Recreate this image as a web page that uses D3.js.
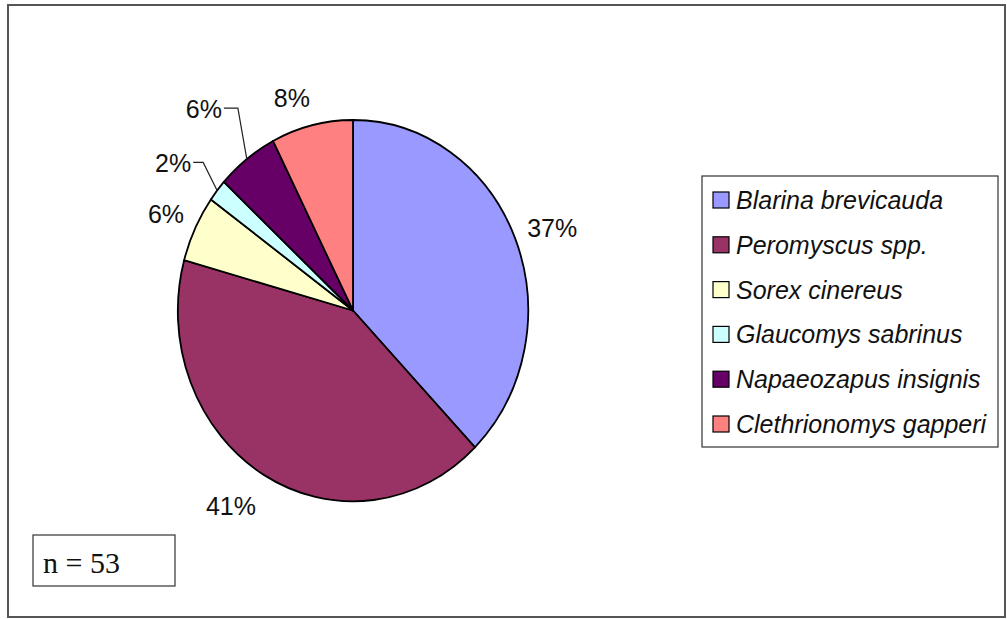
<!DOCTYPE html>
<html>
<head>
<meta charset="utf-8">
<script src="https://cdn.jsdelivr.net/npm/d3@7/dist/d3.min.js"></script>
<style>
  html, body { margin: 0; padding: 0; background: #fff; }
  svg { display: block; }
</style>
</head>
<body>
<script>
// Small-mammal captures by species (n = 53)
const species = ["Blarina brevicauda", "Peromyscus spp.", "Sorex cinereus",
                 "Glaucomys sabrinus", "Napaeozapus insignis", "Clethrionomys gapperi"];
const counts = [20, 22, 3, 1, 3, 4];
const percentLabels = ["37%", "41%", "6%", "2%", "6%", "8%"];
const sampleLabel = "n = 53";

const colors = ["#9999FF", "#993366", "#FFFFCC", "#CCFFFF", "#660066", "#FF8080"];

const W = 1007, H = 619;
const cx = 353, cy = 310.5, rx = 175, ry = 190.5;

// label placement relative to the slice's rim point, and which labels get leaders
const labelNudge = [[37, -11], [-33, 31], [-29, -14.5], [-44, -27], [-43, -50], [-20, -27]];
const leaderGap = [0, 0, 0, 10, 14, 0];

const svg = d3.select("body").append("svg").attr("width", W).attr("height", H);

svg.append("rect").attr("x", 8).attr("y", 5).attr("width", 997).attr("height", 612)
  .attr("fill", "#fff").attr("stroke", "#555").attr("stroke-width", 2);

const pie = d3.pie().sort(null).value(d => d)(counts);
const arc = d3.arc().innerRadius(0).outerRadius(1);

// pie drawn on a unit circle, stretched to an ellipse
const pieG = svg.append("g").attr("transform", `translate(${cx},${cy}) scale(${rx},${ry})`);
pieG.selectAll("path").data(pie).join("path")
  .attr("d", arc)
  .attr("fill", (d, i) => colors[i])
  .attr("stroke", "#000")
  .attr("stroke-width", 1.8)
  .attr("vector-effect", "non-scaling-stroke")
  .attr("stroke-linejoin", "round");

const font = "'Liberation Sans', Arial, sans-serif";
const labelSize = 25;

pie.forEach((d, i) => {
  const a = (d.startAngle + d.endAngle) / 2;
  const px = cx + rx * Math.sin(a);
  const py = cy - ry * Math.cos(a);
  const lx = px + labelNudge[i][0];
  const ly = py + labelNudge[i][1];
  const t = svg.append("text")
    .attr("x", lx).attr("y", ly + 9)
    .attr("text-anchor", "middle")
    .attr("font-family", font)
    .attr("font-size", labelSize)
    .attr("fill", "#111")
    .text(percentLabels[i]);
  if (leaderGap[i] > 0) {
    const w = t.node().getComputedTextLength();
    const right = lx + w / 2 + 2;
    const ey = ly - 1;
    svg.append("polyline")
      .attr("points", `${right},${ey} ${right + leaderGap[i]},${ey} ${px},${py}`)
      .attr("fill", "none").attr("stroke", "#222").attr("stroke-width", 1.2);
  }
});

// legend
const legend = svg.append("g");
legend.append("rect").attr("x", 702).attr("y", 176).attr("width", 296).attr("height", 271)
  .attr("fill", "#fff").attr("stroke", "#333").attr("stroke-width", 1.2);
const rowY = d3.scalePoint().domain(species).range([200, 424]);
species.forEach((s, i) => {
  const y = rowY(s);
  legend.append("rect").attr("x", 713).attr("y", y - 8).attr("width", 16).attr("height", 16)
    .attr("fill", colors[i]).attr("stroke", "#000").attr("stroke-width", 1.2);
  legend.append("text").attr("x", 736).attr("y", y + 9)
    .attr("font-family", font).attr("font-style", "italic").attr("font-size", 25)
    .attr("fill", "#111").text(s);
});

// sample size box
svg.append("rect").attr("x", 33).attr("y", 535).attr("width", 142).attr("height", 51)
  .attr("fill", "#fff").attr("stroke", "#333").attr("stroke-width", 1.2);
svg.append("text").attr("x", 43).attr("y", 573)
  .attr("font-family", "'Liberation Serif', 'Times New Roman', serif")
  .attr("font-size", 30).attr("fill", "#111").text(sampleLabel);
</script>
</body>
</html>
